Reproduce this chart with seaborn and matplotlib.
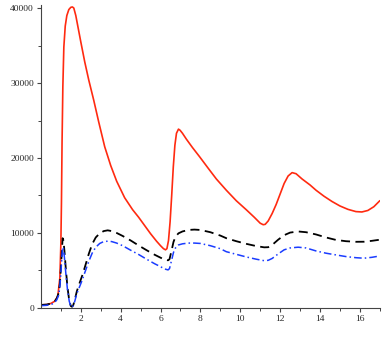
import numpy as np
import pandas as pd
import matplotlib
matplotlib.use("Agg")
import matplotlib.pyplot as plt
import seaborn as sns

# values
red_x = [0.0, 0.3, 0.5, 0.7, 0.85, 0.95, 1.0, 1.03, 1.06, 1.1, 1.15, 1.22, 1.3, 1.4, 1.5, 1.58, 1.65,
         1.75, 1.85, 2.0, 2.2, 2.4, 2.65, 2.9, 3.2, 3.5, 3.8, 4.2, 4.6, 4.9, 5.2, 5.5, 5.8, 6.0,
         6.15, 6.25, 6.32, 6.4, 6.48, 6.56, 6.64, 6.72, 6.8, 6.9, 6.98, 7.1, 7.3, 7.6, 7.95, 8.4,
         8.8, 9.3, 9.8, 10.3, 10.7, 11.0, 11.15, 11.25, 11.4, 11.6, 11.8, 12.0, 12.2, 12.4, 12.6,
         12.8, 13.1, 13.5, 13.8, 14.2, 14.6, 15.0, 15.4, 15.8, 16.1, 16.4, 16.7, 17.0]
red_y = [400, 450, 600, 900, 1600, 4000, 8500, 14000, 22000, 29500, 34800, 37600, 39000, 39800,
         40100, 40150, 40000, 39000, 37600, 35500, 32800, 30400, 27700, 24800, 21500, 19000,
         16900, 14700, 13100, 12100, 11000, 9900, 8900, 8300, 7900, 7750, 7900, 9000, 11500,
         15000, 18800, 21700, 23300, 23850, 23700, 23300, 22500, 21400, 20200, 18600, 17200,
         15700, 14300, 13100, 12100, 11300, 11100, 11150, 11600, 12600, 13800, 15200, 16600,
         17600, 18050, 17900, 17200, 16400, 15700, 14900, 14200, 13600, 13150, 12850, 12800,
         13000, 13500, 14300]

cmp_x = [0.0, 0.3, 0.55, 0.7, 0.8, 0.89, 0.95, 1.0, 1.05, 1.09, 1.13, 1.18, 1.25, 1.33, 1.42, 1.5,
         1.56, 1.62, 1.7, 1.8, 1.95, 2.07, 2.2, 2.4, 2.57, 2.75, 2.95, 3.15, 3.35, 3.55, 3.8, 4.1,
         4.5, 4.92, 5.3, 5.7, 6.0, 6.2, 6.38, 6.45, 6.55, 6.65, 6.75, 6.9, 7.1, 7.4, 7.7, 8.0, 8.5,
         9.0, 9.3, 9.8, 10.3, 10.8, 11.2, 11.4, 11.6, 11.9, 12.2, 12.5, 12.9, 13.3, 13.8, 14.3,
         14.8, 15.3, 15.8, 16.2, 16.6, 17.0]
black_y = [400, 450, 620, 900, 1300, 2000, 3200, 5200, 7600, 9300, 9000, 7600, 5200, 2800, 1000,
           250, 150, 350, 1100, 2200, 3400, 4300, 5400, 7200, 8500, 9400, 9950, 10250, 10350,
           10250, 10000, 9600, 9000, 8300, 7700, 7100, 6700, 6450, 6350, 6500, 7600, 8800, 9500,
           9950, 10200, 10400, 10450, 10400, 10100, 9650, 9300, 8900, 8550, 8250, 8080, 8100,
           8400, 9100, 9700, 10050, 10200, 10100, 9800, 9400, 9070, 8900, 8820, 8830, 8950, 9100]
blue_y = [300, 350, 500, 750, 1100, 1700, 2800, 4600, 6700, 8100, 7900, 6700, 4600, 2500, 900,
          200, 100, 300, 900, 1900, 2900, 3700, 4700, 6200, 7300, 8100, 8600, 8850, 8900, 8850,
          8650, 8300, 7700, 7100, 6500, 5900, 5500, 5200, 5070, 5250, 6300, 7400, 8000, 8400,
          8550, 8650, 8650, 8600, 8300, 7900, 7500, 7150, 6800, 6500, 6300, 6350, 6600, 7200,
          7750, 8000, 8100, 8000, 7600, 7300, 7070, 6850, 6700, 6630, 6750, 6930]

x_ticks = [2, 4, 6, 8, 10, 12, 14, 16]
y_ticks = [0, 10000, 20000, 30000, 40000]

sns.set_style("ticks")
plt.rcParams['font.family'] = ['Liberation Serif', 'DejaVu Serif']

fig = plt.figure(figsize=(3.86, 3.38), dpi=100)
ax = fig.add_axes([0.106, 0.089, 0.878, 0.896])

sns.lineplot(x=red_x, y=red_y, ax=ax, color="#ff2a10", linewidth=1.2)
sns.lineplot(x=cmp_x, y=black_y, ax=ax, color="black", linewidth=1.3, dashes=False,
             linestyle=(0, (5, 3)))
sns.lineplot(x=cmp_x, y=blue_y, ax=ax, color="#1a3cff", linewidth=1.1,
             linestyle=(0, (5, 2, 1, 2)))

ax.set_xlim(0, 17)
ax.set_ylim(0, 40400)
ax.set_xticks(x_ticks)
ax.set_xticks([1, 3, 5, 7, 9, 11, 13, 15, 17], minor=True)
ax.set_yticks(y_ticks)
ax.set_yticks([5000, 15000, 25000, 35000], minor=True)
ax.set_xticklabels([str(t) for t in x_ticks])
ax.set_yticklabels([str(t) for t in y_ticks])
ax.tick_params(axis="both", which="major", length=3, width=0.8, labelsize=6.8, pad=2, color="#444444")
ax.tick_params(axis="both", which="minor", length=2, width=0.7, color="#444444")
sns.despine(ax=ax)
for s in ["left", "bottom"]:
    ax.spines[s].set_color("#444444")
    ax.spines[s].set_linewidth(0.8)

fig.savefig("out.png", dpi=100)
